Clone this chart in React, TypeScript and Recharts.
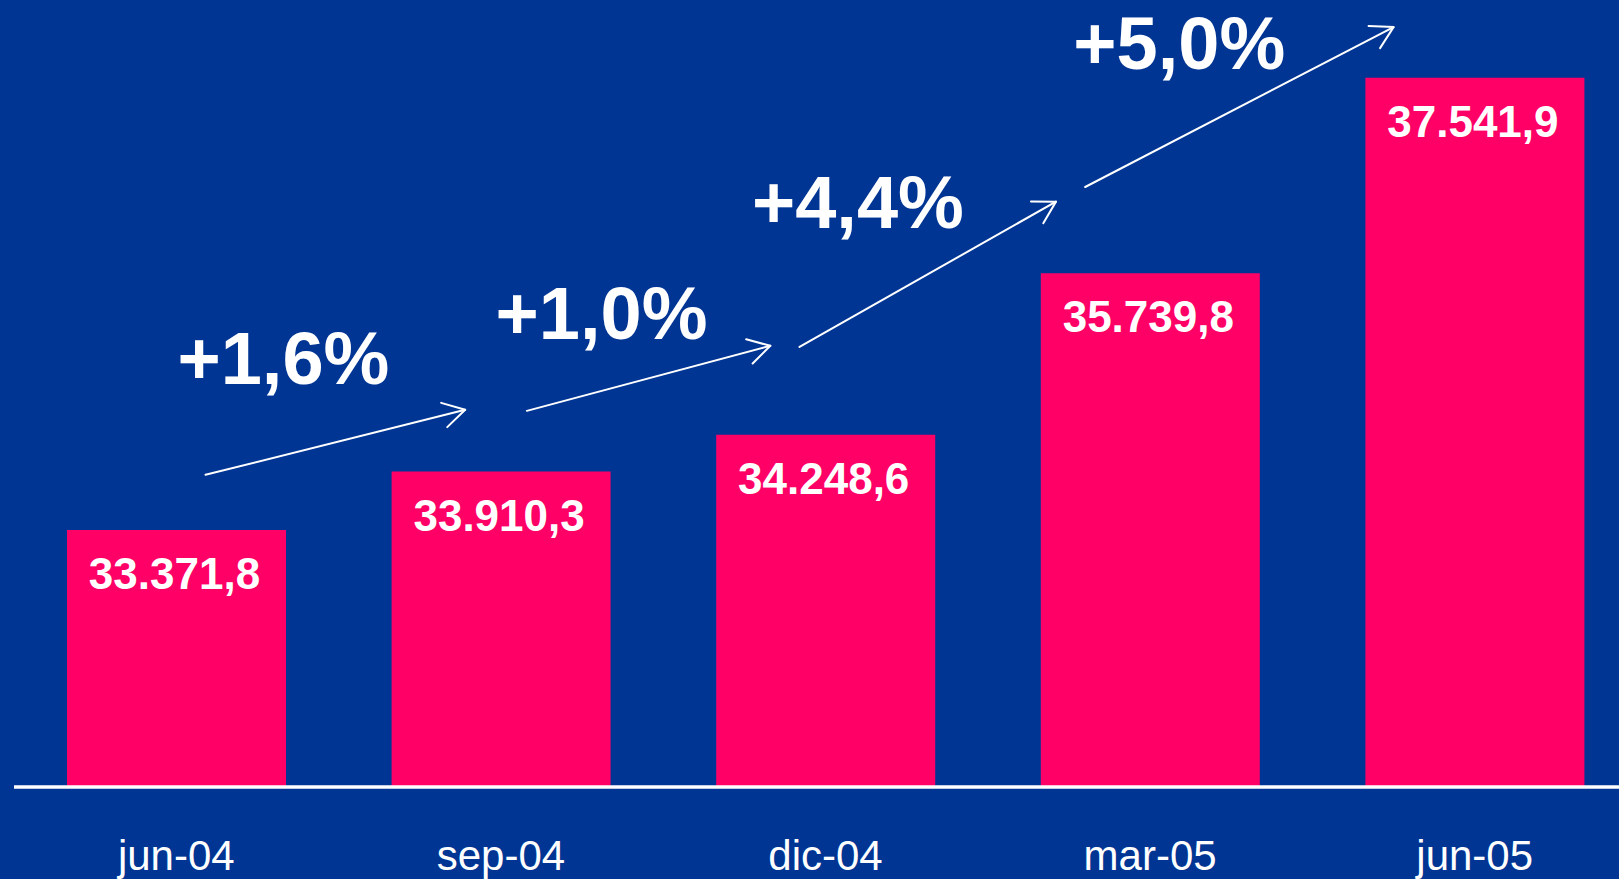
import { BarChart, Bar, XAxis, YAxis, LabelList, ReferenceLine, ReferenceDot } from 'recharts'

const months = ['jun-04', 'sep-04', 'dic-04', 'mar-05', 'jun-05']
const values = [33371.8, 33910.3, 34248.6, 35739.8, 37541.9]

// growth annotations, placed in data coordinates (x = category index, y = value)
const growthLabels = ['+1,6%', '+1,0%', '+4,4%', '+5,0%']
const growthX = [0.33, 1.31, 2.1, 3.09]
const growthY = [34720, 35135, 36155, 37625]
const arrowFrom = [[0.09, 33880], [1.08, 34470], [1.92, 35060], [2.8, 36535]]
const arrowTo = [[0.89, 34480], [1.83, 35070], [2.71, 36400], [3.75, 38010]]

const BG = '#003594'
const BAR = '#FF0066'
const FONT = '"Liberation Sans", Arial, sans-serif'

const data = months.map((m, i) => ({ idx: i, month: m, value: values[i] }))

const fmt = (v: number) => {
  const [int, dec] = v.toFixed(1).split('.')
  return int.replace(/\B(?=(\d{3})+(?!\d))/g, '.') + ',' + dec
}

const Arrow = (p: any) => {
  const { x1, y1, x2, y2 } = p
  const a = Math.atan2(y2 - y1, x2 - x1)
  const L = 25
  const w1 = a + Math.PI - Math.PI / 6
  const w2 = a + Math.PI + Math.PI / 6
  return (
    <g stroke="#fff" strokeWidth={2} fill="none" strokeLinecap="round" strokeLinejoin="round">
      <line x1={x1} y1={y1} x2={x2} y2={y2} />
      <polyline
        points={`${x2 + L * Math.cos(w1)},${y2 + L * Math.sin(w1)} ${x2},${y2} ${x2 + L * Math.cos(w2)},${y2 + L * Math.sin(w2)}`}
      />
    </g>
  )
}

const ValueLabel = (p: any) => {
  const { x, y, width, value } = p
  return (
    <text x={x + width / 2 - 2} y={y + 59} textAnchor="middle" fill="#fff" fontSize={44} fontWeight="bold" fontFamily={FONT}>
      {fmt(value)}
    </text>
  )
}

export default function App() {
  return (
    <div style={{ position: 'fixed', left: 0, top: 0, width: 1619, height: 879, overflow: 'hidden', background: BG }}>
      <BarChart width={1640} height={879} data={data} margin={{ top: 0, right: 3, left: 14, bottom: 32 }}>
        <XAxis
          dataKey="idx"
          type="number"
          domain={[-0.5, 4.5]}
          ticks={[0, 1, 2, 3, 4]}
          tickFormatter={(i) => months[i]}
          height={60}
          axisLine={{ stroke: '#fff', strokeWidth: 3.5 }}
          tickLine={false}
          tickSize={0}
          tickMargin={53}
          tick={{ fill: '#fff', fontSize: 42, fontFamily: FONT }}
        />
        <YAxis hide domain={[31000, 38260]} allowDataOverflow />
        <Bar dataKey="value" fill={BAR} barSize={219} isAnimationActive={false}>
          <LabelList dataKey="value" content={ValueLabel} />
        </Bar>
        {arrowFrom.map((f, i) => (
          <ReferenceLine
            key={`a${i}`}
            segment={[{ x: f[0], y: f[1] }, { x: arrowTo[i][0], y: arrowTo[i][1] }]}
            shape={Arrow}
          />
        ))}
        {growthLabels.map((g, i) => (
          <ReferenceDot
            key={`g${i}`}
            x={growthX[i]}
            y={growthY[i]}
            r={0}
            shape={(p: any) => (
              <text x={p.cx} y={p.cy} textAnchor="middle" fill="#fff" fontSize={74} fontWeight="bold" fontFamily={FONT}>
                {g}
              </text>
            )}
          />
        ))}
      </BarChart>
    </div>
  )
}
